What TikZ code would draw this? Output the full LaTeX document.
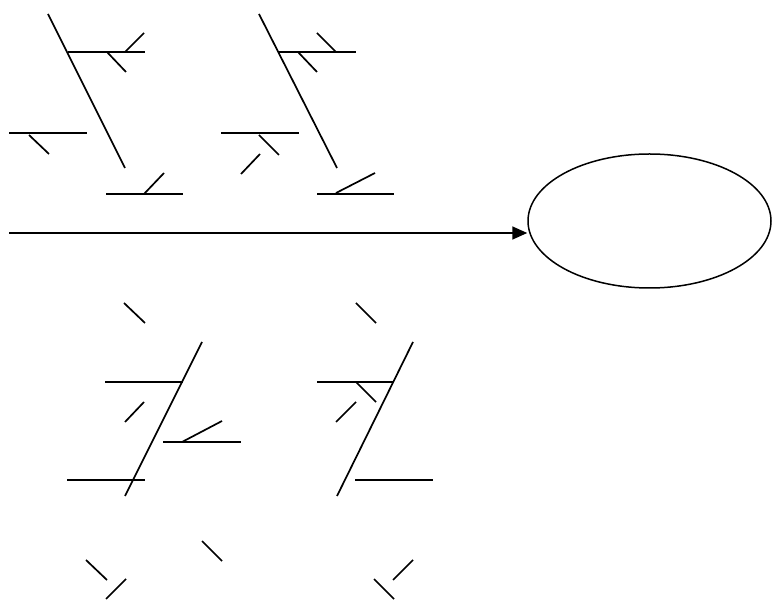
\documentclass[tikz,border=0pt]{standalone}
\usepackage{tikz}
\usetikzlibrary{positioning, arrows.meta, shapes.geometric}

\begin{document}
\begin{tikzpicture}[x=1pt, y=-1pt, bone/.style={line width=1.7pt, black}]
	\useasboundingbox (0,0) rectangle (772,601);
	% effect and spine
	\node[draw, ellipse, line width=1.5pt, minimum width=243pt, minimum height=134pt, inner sep=0pt] (effect) at (649.5,221) {};
	\coordinate (spine) at (9,233);
	\draw[bone, -{Triangle[length=15pt, width=13pt]}] (spine) -- (spine -| effect.west);
	% upper left cause
	\draw[bone] (48,14) -- (125,168);
	\draw[bone] (68,52) -- (145,52); \draw[bone] (125,52) -- (144,33); \draw[bone] (107,52) -- (126,72);
	\draw[bone] (9,133) -- (87,133); \draw[bone] (29,135) -- (49,154);
	\draw[bone] (106,194) -- (183,194); \draw[bone] (144,194) -- (164,173);
	% upper right cause
	\draw[bone] (259,14) -- (337,168);
	\draw[bone] (279,52) -- (356,52); \draw[bone] (317,33) -- (336,52); \draw[bone] (298,52) -- (317,72);
	\draw[bone] (221,133) -- (299,133); \draw[bone] (259,135) -- (279,155); \draw[bone] (241,174) -- (260,154);
	\draw[bone] (317,194) -- (394,194); \draw[bone] (336,193) -- (375,173);
	% lower left cause
	\draw[bone] (124,303) -- (145,323);
	\draw[bone] (202,342) -- (125,496);
	\draw[bone] (105,382) -- (183,382); \draw[bone] (144,402) -- (125,422);
	\draw[bone] (163,442) -- (241,442); \draw[bone] (182,442) -- (222,421);
	\draw[bone] (67,480) -- (145,480);
	\draw[bone] (86,560) -- (107,580); \draw[bone] (106,599) -- (126,579); \draw[bone] (202,541) -- (222,561);
	% lower right cause
	\draw[bone] (356,303) -- (376,323);
	\draw[bone] (413,342) -- (337,496);
	\draw[bone] (317,382) -- (393,382); \draw[bone] (356,382) -- (376,402); \draw[bone] (356,402) -- (336,422);
	\draw[bone] (355,480) -- (433,480);
	\draw[bone] (393,580) -- (413,560); \draw[bone] (374,579) -- (394,599);
\end{tikzpicture}
\end{document}
